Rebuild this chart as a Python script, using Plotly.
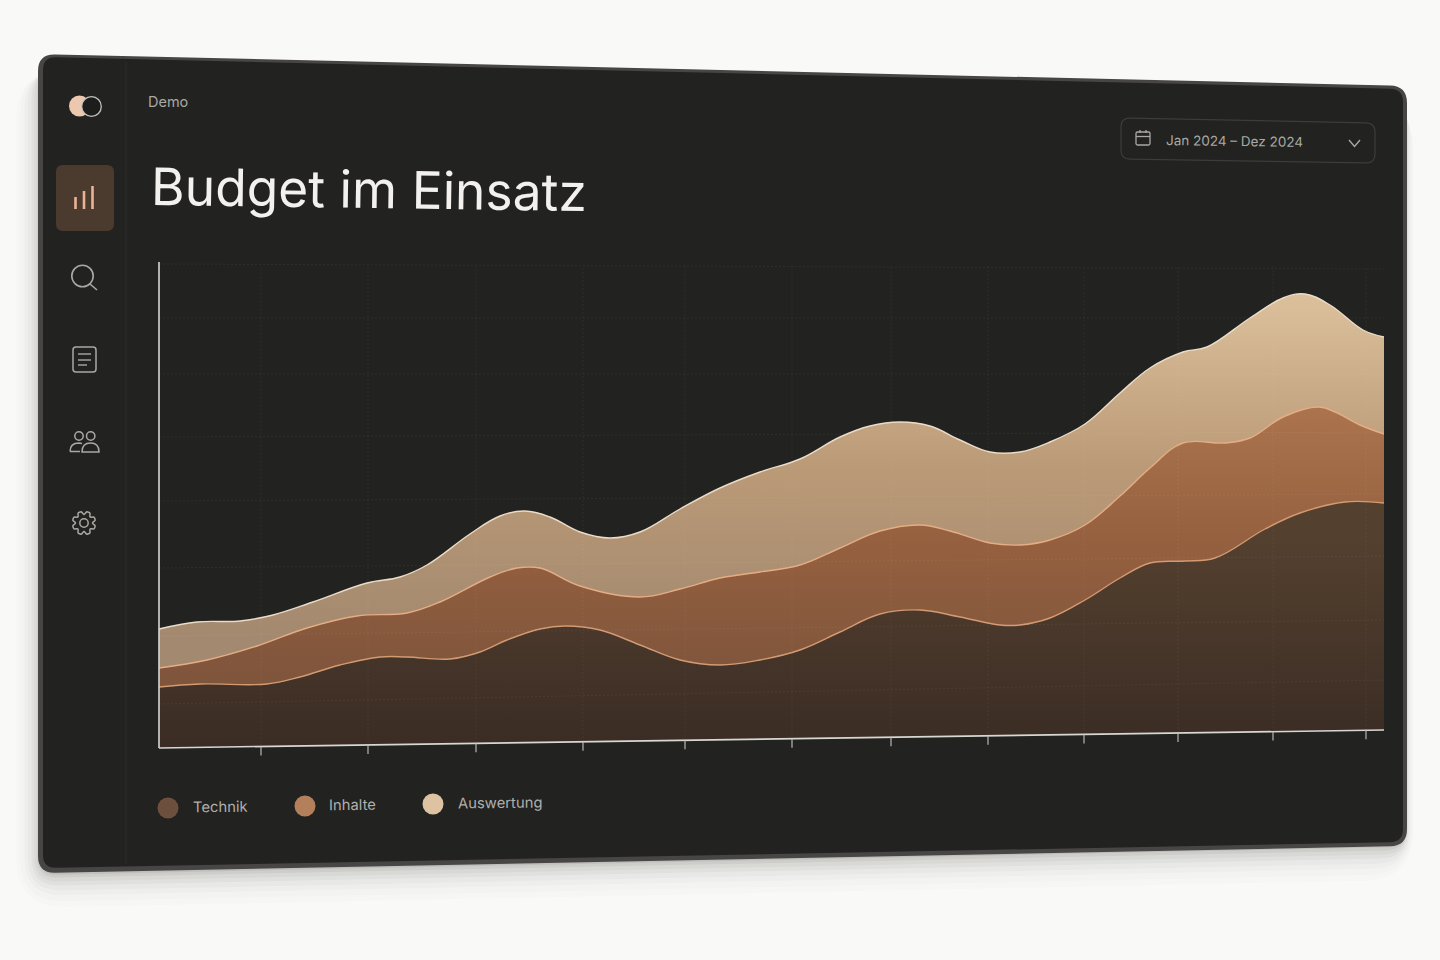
import math
import plotly.graph_objects as go

# values (height above the chart's zero line)
months = [261, 368, 476, 583, 685, 792, 891, 988, 1084, 1178, 1273, 1366]
month_base = [1.5, 3.1, 4.7, 6.2, 7.7, 9.3, 10.8, 12.2, 13.6, 15, 16.4, 17.7]

base_x = [159, 1384]
base_y = [0, 18]

axis_x = [159, 159]
axis_y = [0, 486]

technik_x = [159, 200, 267, 300, 340, 380, 407, 450, 480, 507, 540, 565, 600, 640, 680, 720, 760, 800, 840, 880,
             920, 960, 1000, 1020, 1050, 1085, 1120, 1150, 1185, 1215, 1265, 1300, 1345, 1384]
technik_y = [61, 64, 64, 71, 83, 91, 91, 89, 96, 108, 119, 122, 118, 103, 88, 83, 88, 98, 116, 134,
             138, 131, 123, 123, 130, 148, 170, 185, 187, 190, 219, 235, 246, 245]

inhalte_x = [159, 207, 257, 307, 357, 407, 440, 490, 517, 540, 580, 640, 680, 720, 760, 800, 840, 880, 920, 950,
             990, 1020, 1050, 1085, 1120, 1150, 1183, 1225, 1250, 1283, 1318, 1335, 1360, 1384]
inhalte_y = [80, 88, 102, 120, 132, 135, 146, 171, 180, 180, 162, 151, 159, 170, 176, 183, 200, 217, 223, 217,
             205, 203, 208, 223, 252, 280, 305, 305, 310, 331, 341, 336, 323, 314]

auswertung_x = [159, 197, 240, 273, 313, 367, 400, 427, 470, 500, 525, 550, 580, 610, 640, 680, 720, 760, 800, 840,
                870, 900, 930, 960, 990, 1020, 1050, 1085, 1120, 1150, 1183, 1207, 1250, 1283, 1305, 1330, 1363, 1384]
auswertung_y = [119, 126, 127, 133, 146, 165, 171, 183, 214, 232, 237, 231, 216, 210, 216, 239, 260, 276, 289, 311,
                322, 326, 322, 308, 296, 296, 306, 324, 355, 380, 396, 401, 430, 450, 454, 443, 418, 411]

grid_left = [484, 430, 374, 311, 247, 180, 112, 44]
grid_right = [479, 430, 374, 316, 254, 192, 128, 68]

series_names = ['Technik', 'Inhalte', 'Auswertung']
series_colors = ['#6d4f3e', '#b47f5b', '#ddc3a1']


def px(x):
    return x / 1440


def py(y):
    return 1 - y / 960


def rounded(pts, r):
    # closed path through the corners with rounded joins, in pixels
    d = ''
    n = len(pts)
    for i in range(n):
        p0, p1, p2 = pts[i - 1], pts[i], pts[(i + 1) % n]
        l1 = math.dist(p0, p1)
        l2 = math.dist(p1, p2)
        a = (p1[0] + (p0[0] - p1[0]) * r / l1, p1[1] + (p0[1] - p1[1]) * r / l1)
        b = (p1[0] + (p2[0] - p1[0]) * r / l2, p1[1] + (p2[1] - p1[1]) * r / l2)
        d += ('M' if i == 0 else 'L') + f'{px(a[0])},{py(a[1])} Q{px(p1[0])},{py(p1[1])} {px(b[0])},{py(b[1])} '
    return d + 'Z'


def line_path(pts):
    return 'M' + ' L'.join(f'{px(x)},{py(y)}' for x, y in pts)


def circle(cx, cy, r, fill='rgba(0,0,0,0)', color='rgba(0,0,0,0)', width=0):
    return dict(type='circle', xref='paper', yref='paper', layer='below',
                x0=px(cx - r), x1=px(cx + r), y0=py(cy + r), y1=py(cy - r),
                fillcolor=fill, line=dict(color=color, width=width))


def path(d, fill='rgba(0,0,0,0)', color='rgba(0,0,0,0)', width=0):
    return dict(type='path', xref='paper', yref='paper', layer='below', path=d,
                fillcolor=fill, line=dict(color=color, width=width))


shapes = []

# soft shadow round the panel, mostly under and left of it
for grow, alpha in [(34, 0.012), (28, 0.016), (22, 0.022), (17, 0.028), (12, 0.035), (8, 0.045), (4, 0.06), (1, 0.08)]:
    shapes.append(path(rounded([(40 - grow * 0.7, 70), (1405 + grow * 0.25, 100),
                                (1405 + grow * 0.25, 846 + grow), (40 - grow * 0.7, 874 + grow)], 16 + grow),
                       fill=f'rgba(40,36,32,{alpha})'))

# panel
shapes.append(path(rounded([(38, 54), (1407, 86), (1407, 846), (38, 873)], 17), fill='#484644'))
shapes.append(path(rounded([(43, 57), (1403, 89), (1403, 842), (43, 868)], 13), fill='#222221'))
shapes.append(path(line_path([(126, 62), (126, 864)]), color='#2d2d2b', width=1))

# logo
shapes.append(circle(79.5, 106, 10.5, fill='#eec8ae'))
shapes.append(circle(91.5, 106.5, 9.8, fill='#1d1d1c', color='#c4c2bd', width=1.3))

# sidebar icons
icon = '#a9a8a3'
shapes.append(path(rounded([(56, 165), (114, 165), (114, 231), (56, 231)], 7), fill='#4b3a2e'))
for bx, by in [(75.5, 197), (84, 191), (92.5, 186)]:
    shapes.append(path(line_path([(bx, by), (bx, 209)]), color='#e9b394', width=2.6))
shapes.append(circle(82.5, 276, 10.7, color=icon, width=1.6))
shapes.append(path(line_path([(90, 284), (97, 290)]), color=icon, width=1.6))
shapes.append(path(rounded([(73, 347), (96, 347), (96, 372), (73, 372)], 3), color=icon, width=1.5))
for x1, ly in [(91, 354), (91, 360), (87, 365)]:
    shapes.append(path(line_path([(78, ly), (x1, ly)]), color=icon, width=1.4))
shapes.append(circle(79, 436, 4.2, color=icon, width=1.5))
shapes.append(circle(90.7, 436, 4.2, color=icon, width=1.5))
shapes.append(path(f'M{px(70)},{py(451.5)} Q{px(70)},{py(443)} {px(79)},{py(443)} L{px(82)},{py(443.5)} '
                   f'M{px(70)},{py(451.5)} L{px(80)},{py(451.5)}', color=icon, width=1.5))
shapes.append(path(f'M{px(82)},{py(452)} Q{px(82)},{py(443)} {px(90.5)},{py(443)} '
                   f'Q{px(99)},{py(443)} {px(99)},{py(452)} Z', color=icon, width=1.5))
gear = []
for i in range(8):
    mid = i * math.pi / 4 - math.pi / 8
    for ang, rad in [(-0.32, 8.6), (-0.17, 11.8), (0.17, 11.8), (0.32, 8.6)]:
        gear.append((84 + rad * math.cos(mid + ang), 523 + rad * math.sin(mid + ang)))
shapes.append(path(rounded(gear, 1.2), color=icon, width=1.5))
shapes.append(circle(84, 523, 4.2, color=icon, width=1.5))

# date picker
shapes.append(path(rounded([(1121, 118), (1375, 123), (1375, 163), (1121, 159)], 9), color='#3d3c3a', width=1.2))
shapes.append(path(rounded([(1136, 132), (1150, 132), (1150, 145), (1136, 145)], 1.5), color=icon, width=1.3))
shapes.append(path(line_path([(1136, 136.5), (1150, 136.5)]), color=icon, width=1.3))
shapes.append(path(line_path([(1140, 130), (1140, 133)]), color=icon, width=1.3))
shapes.append(path(line_path([(1146, 130), (1146, 133)]), color=icon, width=1.3))
shapes.append(path(line_path([(1349, 140), (1354.5, 146.5), (1360, 140)]), color=icon, width=1.4))

# legend dots
shapes.append(circle(168, 808, 10.5, fill=series_colors[0]))
shapes.append(circle(305, 806, 10.5, fill=series_colors[1]))
shapes.append(circle(433, 804, 10.5, fill=series_colors[2]))

fig = go.Figure()

fig.add_trace(go.Scatter(x=base_x, y=base_y, mode='lines', line=dict(color='#d8d7d2', width=1.6),
                         cliponaxis=False, showlegend=False, hoverinfo='skip'))

layers = [
    (technik_x, technik_y, '#d49a72', [(0, '#3a2c24'), (1, '#54402f')], 0, 210),
    (inhalte_x, inhalte_y, '#e6ad85', [(0, '#7f553c'), (0.5, '#95603f'), (1, '#ab744e')], 70, 340),
    (auswertung_x, auswertung_y, '#eadcc9', [(0, '#a3896f'), (0.5, '#bb9a77'), (1, '#dcc09c')], 110, 454),
]
for name, (lx, ly, lc, scale, g0, g1) in zip(series_names, layers):
    fig.add_trace(go.Scatter(x=lx, y=ly, name=name, mode='lines', fill='tonexty',
                             line=dict(color=lc, width=1.4, shape='spline', smoothing=1.1),
                             fillgradient=dict(type='vertical', colorscale=scale, start=g0, stop=g1),
                             showlegend=False))

# grid, faint also over the areas
grid_x = []
grid_y = []
for left, right in zip(grid_left, grid_right):
    grid_x += [base_x[0], base_x[1], None]
    grid_y += [left, right, None]
for mx, mb in zip(months, month_base):
    grid_x += [mx, mx, None]
    grid_y += [mb, 482, None]
fig.add_trace(go.Scatter(x=grid_x, y=grid_y, mode='lines', line=dict(color='rgba(255,255,255,0.055)', width=1, dash='2px 2px'),
                         showlegend=False, hoverinfo='skip'))

fig.add_trace(go.Scatter(x=axis_x, y=axis_y, mode='lines', line=dict(color='#d8d7d2', width=1.6),
                         cliponaxis=False, showlegend=False, hoverinfo='skip'))

# month ticks hanging under the tilted axis
fig.add_trace(go.Scatter(x=months, y=month_base, mode='markers', marker=dict(size=1, color='rgba(0,0,0,0)'),
                         error_y=dict(type='data', symmetric=False, array=[0] * 12, arrayminus=[9] * 12,
                                      color='#b9b8b3', thickness=1.2, width=0),
                         cliponaxis=False, showlegend=False, hoverinfo='skip'))


def label(text, x, y, size, color, angle=0.8, font='Inter'):
    fig.add_annotation(text=text, xref='paper', yref='paper', x=px(x), y=py(y), xanchor='left', yanchor='middle',
                       showarrow=False, textangle=angle, font=dict(family=font, size=size, color=color))


label('Demo', 146, 102, 14.5, '#a9a8a3', angle=0)
label('Budget im Einsatz', 149, 189, 51.5, '#f2f1ed')
label('Jan 2024 – Dez 2024', 1164, 140.5, 13.5, '#a9a8a3', angle=0.8)
label(series_names[0], 191, 807, 14.8, '#b0afaa', angle=-0.6)
label(series_names[1], 327, 805, 14.8, '#b0afaa', angle=-0.6)
label(series_names[2], 456, 803, 14.8, '#b0afaa', angle=-0.6)

fig.update_layout(
    width=1440, height=960,
    margin=dict(l=0, r=0, t=0, b=0),
    paper_bgcolor='#f9f9f7',
    plot_bgcolor='rgba(0,0,0,0)',
    shapes=shapes,
    showlegend=False,
    xaxis=dict(domain=[px(158), px(1384)], range=[158, 1384], showgrid=False, zeroline=False,
               showticklabels=False, ticks=''),
    # the range runs below zero so the ticks under the axis are not cut off
    yaxis=dict(domain=[py(768), py(262)], range=[-20, 486], showgrid=False, zeroline=False,
               showticklabels=False, ticks=''),
)

fig.write_html("out.html", config=dict(displayModeBar=False),
               post_script="document.body.style.margin='0';document.body.style.overflow='hidden';")
